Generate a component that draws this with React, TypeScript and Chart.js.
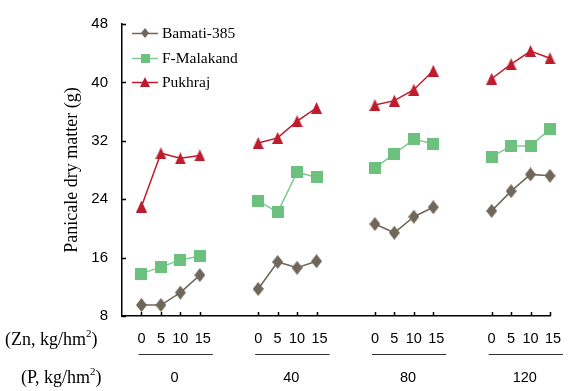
import React, { useEffect, useRef } from "react";
import { Chart, registerables } from "chart.js";

Chart.register(...registerables);

const znLevels = ["0", "5", "10", "15"];
const pLevels = ["0", "40", "80", "120"];
const varieties = ["Bamati-385", "F-Malakand", "Pukhraj"];
// values per P group (0, 40, 80, 120), each with Zn 0,5,10,15
const bamati = [
  [9.5, 9.5, 11.2, 13.6],
  [11.7, 15.4, 14.6, 15.5],
  [20.6, 19.4, 21.6, 22.9],
  [22.4, 25.1, 27.4, 27.2],
];
const malakand = [
  [13.8, 14.7, 15.7, 16.2],
  [23.8, 22.2, 27.7, 27.0],
  [28.3, 30.2, 32.2, 31.6],
  [29.8, 31.3, 31.3, 33.6],
];
const pukhraj = [
  [23.0, 30.3, 29.6, 30.0],
  [31.7, 32.4, 34.7, 36.5],
  [36.9, 37.5, 39.0, 41.6],
  [40.5, 42.5, 44.3, 43.3],
];
const yTicks = [8, 16, 24, 32, 40, 48];

const GAP = 2; // empty slots between P groups
const colors = {
  bamati: "#70675A",
  bamatiLine: "#70675A",
  malakand: "#6DC17F",
  malakandLine: "#7FCB91",
  pukhraj: "#BE1C2D",
  pukhrajLine: "#BE1C2D",
};

function makeMarker(kind: string, w: number, h: number, color: string) {
  const c = document.createElement("canvas");
  c.width = w;
  c.height = h;
  const ctx = c.getContext("2d")!;
  ctx.fillStyle = color;
  ctx.beginPath();
  if (kind === "diamond") {
    ctx.moveTo(w / 2, 0);
    ctx.lineTo(w, h / 2);
    ctx.lineTo(w / 2, h);
    ctx.lineTo(0, h / 2);
  } else if (kind === "triangle") {
    ctx.moveTo(w / 2, 0);
    ctx.lineTo(w, h);
    ctx.lineTo(0, h);
  } else {
    ctx.rect(0, 0, w, h);
  }
  ctx.closePath();
  ctx.fill();
  return c;
}

function toPoints(groups: number[][]) {
  const pts: { x: number; y: number | null }[] = [];
  groups.forEach((g, gi) => {
    g.forEach((v, i) => pts.push({ x: gi * (znLevels.length + GAP) + i, y: v }));
    if (gi < groups.length - 1) pts.push({ x: gi * (znLevels.length + GAP) + znLevels.length, y: null });
  });
  return pts;
}

const SERIF = "'Liberation Serif', 'Times New Roman', serif";
const SANS = "'Liberation Sans', Arial, sans-serif";

export default function App() {
  const ref = useRef<HTMLCanvasElement>(null);
  useEffect(() => {
    const mDia = makeMarker("diamond", 11, 14, colors.bamati);
    const mSq = makeMarker("square", 12, 12, colors.malakand);
    const mTri = makeMarker("triangle", 11, 12, colors.pukhraj);
    const lDia = makeMarker("diamond", 8, 10, colors.bamati);
    const lSq = makeMarker("square", 9, 9, colors.malakand);
    const lTri = makeMarker("triangle", 10, 10, colors.pukhraj);

    const slots = znLevels.length + GAP;
    const tickXs: number[] = [];
    pLevels.forEach((_, gi) => znLevels.forEach((__, i) => tickXs.push(gi * slots + i)));
    const xMax = (pLevels.length - 1) * slots + znLevels.length - 1;

    const extras = {
      id: "extras",
      afterDraw(chart: any) {
        const ctx = chart.ctx;
        const xs = chart.scales.x;
        const ys = chart.scales.y;
        const ca = chart.chartArea;
        ctx.save();
        // inward ticks
        ctx.strokeStyle = "#000";
        ctx.lineWidth = 1.5;
        ctx.beginPath();
        tickXs.forEach((t) => {
          const px = Math.round(xs.getPixelForValue(t)) + 0.5;
          ctx.moveTo(px, ca.bottom);
          ctx.lineTo(px, ca.bottom - 4);
        });
        yTicks.forEach((t) => {
          const py = Math.round(ys.getPixelForValue(t)) + 0.5;
          ctx.moveTo(ca.left, py);
          ctx.lineTo(ca.left + 4, py);
        });
        ctx.stroke();

        // Zn labels, group lines, P labels
        ctx.fillStyle = "#000";
        ctx.textAlign = "center";
        ctx.textBaseline = "middle";
        pLevels.forEach((p, gi) => {
          ctx.font = "14.5px " + SANS;
          znLevels.forEach((z, i) => {
            const px = xs.getPixelForValue(gi * slots + i);
            ctx.fillText(z, px + (i === 3 ? 3 : 0), 339);
          });
          const x0 = xs.getPixelForValue(gi * slots) - 3;
          const x1 = xs.getPixelForValue(gi * slots + znLevels.length - 1) + 13;
          ctx.strokeStyle = "#333";
          ctx.lineWidth = 1;
          ctx.beginPath();
          ctx.moveTo(x0, 354.5);
          ctx.lineTo(x1, 354.5);
          ctx.stroke();
          ctx.fillText(p, (x0 + x1) / 2 - 1, 378);
        });

        // left row labels with superscript
        const drawSup = (pre: string, x: number, y: number) => {
          ctx.textAlign = "left";
          ctx.font = "18px " + SERIF;
          ctx.fillText(pre, x, y);
          let w = ctx.measureText(pre).width;
          ctx.font = "11px " + SERIF;
          ctx.fillText("2", x + w, y - 6);
          w += ctx.measureText("2").width;
          ctx.font = "18px " + SERIF;
          ctx.fillText(")", x + w, y);
        };
        drawSup("(Zn, kg/hm", 5, 340);
        drawSup("(P, kg/hm", 21, 378);

        // y title
        ctx.save();
        ctx.translate(72, 170);
        ctx.rotate(-Math.PI / 2);
        ctx.textAlign = "center";
        ctx.font = "18px " + SERIF;
        ctx.fillText("Panicale dry matter (g)", 0, 0);
        ctx.restore();

        // legend
        const legendItems = [
          { label: varieties[0], line: colors.bamatiLine, m: lDia, y: 33 },
          { label: varieties[1], line: colors.malakandLine, m: lSq, y: 58 },
          { label: varieties[2], line: colors.pukhrajLine, m: lTri, y: 82 },
        ];
        legendItems.forEach((it) => {
          ctx.strokeStyle = it.line;
          ctx.lineWidth = 1.5;
          ctx.beginPath();
          ctx.moveTo(132, it.y + 0.5);
          ctx.lineTo(158, it.y + 0.5);
          ctx.stroke();
          ctx.drawImage(it.m, 145 - it.m.width / 2, it.y - it.m.height / 2);
          ctx.fillStyle = "#000";
          ctx.textAlign = "left";
          ctx.font = "15.5px " + SERIF;
          ctx.fillText(it.label, 162, it.y + 1);
        });
        ctx.restore();
      },
    };

    const common = { borderWidth: 1.5, spanGaps: false, clip: false as any };

    const chart = new Chart(ref.current!, {
      type: "line",
      data: {
        datasets: [
          {
            ...common,
            label: varieties[0],
            data: toPoints(bamati) as any,
            borderColor: colors.bamatiLine,
            pointStyle: mDia as any,
            pointBackgroundColor: colors.bamati,
          },
          {
            ...common,
            label: varieties[1],
            data: toPoints(malakand) as any,
            borderColor: colors.malakandLine,
            pointStyle: mSq as any,
            pointBackgroundColor: colors.malakand,
          },
          {
            ...common,
            label: varieties[2],
            data: toPoints(pukhraj) as any,
            borderColor: colors.pukhrajLine,
            pointStyle: mTri as any,
            pointBackgroundColor: colors.pukhraj,
          },
        ],
      },
      options: {
        animation: false,
        responsive: false,
        maintainAspectRatio: false,
        layout: { padding: { top: 24, right: 583 - 550, left: 0, bottom: 0 } },
        plugins: { legend: { display: false }, tooltip: { enabled: false } },
        scales: {
          x: {
            type: "linear",
            min: -1,
            max: xMax,
            grid: { display: false, drawTicks: false },
            border: { display: true, color: "#000", width: 1.5 },
            ticks: { display: false },
            afterFit: (s: any) => {
              s.height = 391 - 316;
            },
          },
          y: {
            min: 8,
            max: 48,
            afterBuildTicks: (s: any) => {
              s.ticks = yTicks.map((v) => ({ value: v }));
            },
            grid: { display: false, drawTicks: false },
            border: { display: true, color: "#000", width: 1.5 },
            ticks: {
              color: "#000",
              padding: 14,
              font: { family: SANS, size: 15 },
            },
            afterFit: (s: any) => {
              s.width = 122;
            },
          },
        },
      },
      plugins: [extras],
    });
    return () => chart.destroy();
  }, []);
  return (
    <div style={{ position: "fixed", left: 0, top: 0, width: 583, height: 391, background: "#fff" }}>
      <canvas ref={ref} width={583} height={391} style={{ display: "block" }} />
    </div>
  );
}
